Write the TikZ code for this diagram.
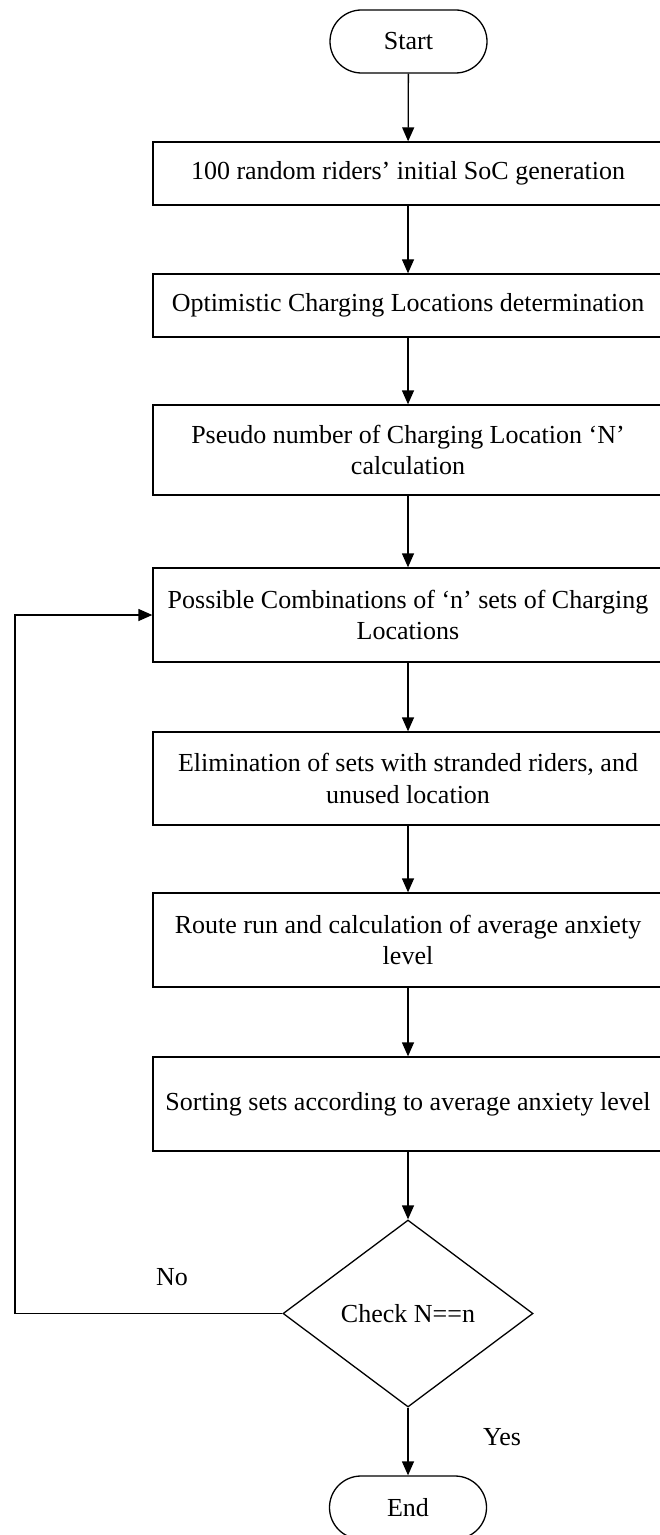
\documentclass[tikz,border=0pt]{standalone}
\usepackage{fontspec}
\setmainfont{Liberation Serif}
\usetikzlibrary{arrows.meta,shapes.geometric}

\begin{document}
\begin{tikzpicture}[x=0.5pt,y=-0.5pt,
  every node/.style={font=\fontsize{13}{15.8}\selectfont, inner sep=0pt},
  stepbox/.style={draw, line width=0.65pt, minimum width=255pt, align=center},
  term/.style={draw, line width=0.65pt, rounded corners=15.75pt,
               minimum width=78.5pt, minimum height=31.5pt},
  decide/.style={draw, diamond, line width=0.65pt, minimum width=125pt,
                 minimum height=93.5pt},
  flow/.style={line width=0.65pt, -{Triangle[length=7pt,width=6pt]}}
]
\useasboundingbox (0,0) rectangle (659,1535);

% terminals and process steps
\node[term] (start) at (408.5,41.5) {Start};
\node[stepbox, minimum height=31.5pt] (b1) at (408,173.5)
  {100 random riders’ initial SoC generation};
\node[stepbox, minimum height=31.5pt] (b2) at (408,305.5)
  {Optimistic Charging Locations determination};
\node[stepbox, minimum height=45pt] (b3) at (408,450)
  {Pseudo number of Charging Location ‘N’\\calculation};
\node[stepbox, minimum height=47pt] (b4) at (408,615)
  {Possible Combinations of ‘n’ sets of Charging\\Locations};
\node[stepbox, minimum height=46.5pt] (b5) at (408,778.5)
  {Elimination of sets with stranded riders, and\\unused location};
\node[stepbox, minimum height=47pt] (b6) at (408,940)
  {Route run and calculation of average anxiety\\level};
\node[stepbox, minimum height=47pt] (b7) at (408,1104)
  {Sorting sets according to average anxiety level};
\node[decide] (chk) at (408,1313.5) {Check N==n};
\node[term] (stop) at (408,1507.5) {End};

% branch labels
\node (no) at (172,1277) {No};
\node (yes) at (502,1437) {Yes};

% main flow
\draw[flow] (start) -- (b1);
\draw[flow] (b1) -- (b2);
\draw[flow] (b2) -- (b3);
\draw[flow] (b3) -- (b4);
\draw[flow] (b4) -- (b5);
\draw[flow] (b5) -- (b6);
\draw[flow] (b6) -- (b7);
\draw[flow] (b7) -- (chk);
\draw[flow] (chk) -- (stop);

% loop back when N differs from n
\coordinate (back) at (15,1313.5);
\draw[flow] (chk.west) -- (back) |- (b4.west);
\end{tikzpicture}
\end{document}
